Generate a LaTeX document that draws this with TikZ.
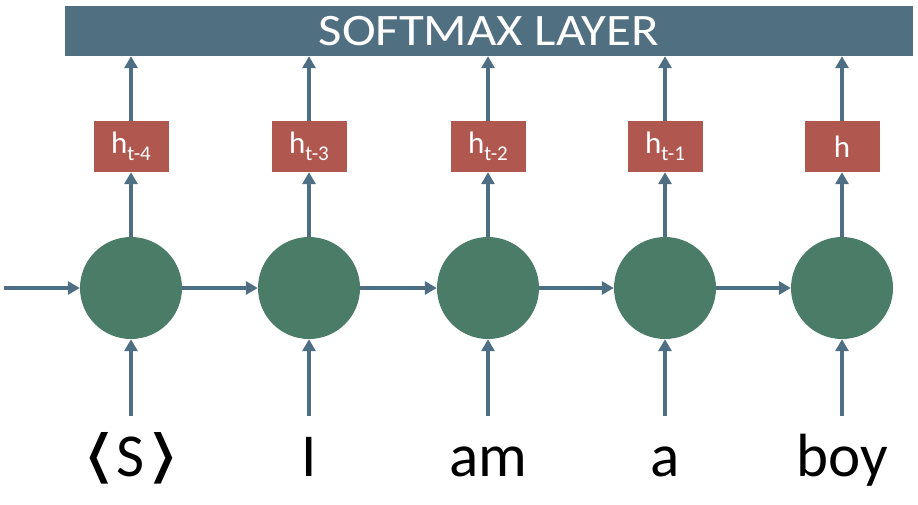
\documentclass[tikz,border=0pt]{standalone}
\usepackage{fontspec}
\setmainfont{Carlito}
\newfontfamily\symfont{DejaVu Sans}
\usetikzlibrary{arrows.meta}
\definecolor{barcol}{RGB}{80,112,130}
\definecolor{boxcol}{RGB}{176,88,80}
\definecolor{cellcol}{RGB}{74,124,104}
\definecolor{arrcol}{RGB}{78,110,132}
\newcommand{\brk}[1]{{\symfont\fontsize{58}{58}\selectfont\scalebox{1.45}[1]{#1}}}
\begin{document}
\begin{tikzpicture}[x=1pt,y=-1pt,
  cell/.style={circle,fill=cellcol,minimum size=102pt,inner sep=0pt},
  hbox/.style={rectangle,fill=boxcol,minimum width=75pt,minimum height=51pt,inner sep=0pt,text=white,font=\fontsize{31}{31}\selectfont},
  arr/.style={draw=arrcol,line width=4pt,-{Triangle[length=12pt,width=13pt]}},
  word/.style={anchor=base,inner sep=0pt,font=\fontsize{61}{61}\selectfont}]
\useasboundingbox (0,0) rectangle (918,504);
\node[rectangle,fill=barcol,minimum width=848pt,minimum height=50pt,inner sep=0pt,text=white,font=\fontsize{45}{45}\selectfont] (bar) at (489,31) {\scalebox{1.13}[1]{SOFTMAX LAYER}};
\foreach \i/\x/\lab/\w in {1/131/t-4/{\brk{⟨}\kern2pt S\kern2pt\brk{⟩}},2/309/t-3/I,3/488/t-2/am,4/665/t-1/a,5/842//boy}{
  \node[cell] (c\i) at (\x,288) {};
  \node[hbox] (b\i) at (\x,146.5) {h\ifx\lab\empty\else\raisebox{-7pt}{\fontsize{21}{21}\selectfont\lab}\fi};
  \coordinate (in\i) at (\x,416);
  \node[word] (w\i) at (\x,476) {\w};
  \draw[arr] (in\i) -- (c\i.south);
  \draw[arr] (c\i.north) -- (b\i.south);
  \draw[arr] (b\i.north) -- (b\i.north |- bar.south);
}
\coordinate (start) at (4,288);
\draw[arr] (start) -- (c1.west);
\draw[arr] (c1.east) -- (c2.west);
\draw[arr] (c2.east) -- (c3.west);
\draw[arr] (c3.east) -- (c4.west);
\draw[arr] (c4.east) -- (c5.west);
\end{tikzpicture}
\end{document}
